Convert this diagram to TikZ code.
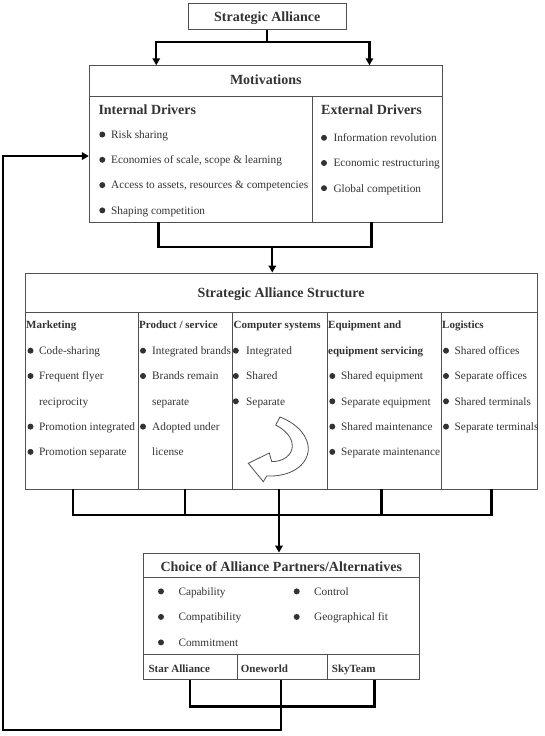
\documentclass[tikz,border=0pt]{standalone}
\usepackage{fontspec}
\setmainfont{Liberation Serif}
\usetikzlibrary{arrows.meta}
\definecolor{txt}{RGB}{51,51,51}
\definecolor{edge}{RGB}{80,80,80}
\begin{document}
\begin{tikzpicture}[x=1pt, y=-1pt, >={Triangle[length=7pt,width=7.5pt]},
    box/.style={draw=edge, line width=0.9pt, inner sep=0pt},
    div/.style={draw=edge, line width=0.9pt},
    conn/.style={line width=2.3pt, black},
    ttl/.style={anchor=base, inner sep=0pt, text=txt, font=\fontsize{14}{16}\selectfont\bfseries},
    hdr/.style={anchor=base west, inner sep=0pt, text=txt, font=\fontsize{11}{13}\selectfont\bfseries},
    item/.style={anchor=base west, inner sep=0pt, text=txt, font=\fontsize{11.3}{13}\selectfont}]
\useasboundingbox (0,0) rectangle (544,736);

\node[box, minimum width=157.7pt, minimum height=25.7pt] (sa) at (267.2,16.2) {};
\node[ttl] (satxt) at (267.2,21) {Strategic Alliance};

\node[box, minimum width=353pt, minimum height=156.3pt] (mot) at (265.8,143.85) {};
\draw[div] (89.3,96.7) -- (442.3,96.7);
\draw[div] (312.7,96.7) -- (312.7,222);
\node[ttl] (mottxt) at (265.8,84.8) {Motivations};
\node[ttl, anchor=base west] (inthdr) at (98.3,114.8) {Internal Drivers};
\node[ttl, anchor=base west] (exthdr) at (321,114.8) {External Drivers};
\foreach \t [count=\i] in {Risk sharing, {Economies of scale, scope \& learning},
    {Access to assets, resources \& competencies}, Shaping competition} {
  \node[item] (int\i) at (111,{138.3+25.3*(\i-1)}) {\t};
  \fill[txt] (102.3,{134.5+25.3*(\i-1)}) circle (3pt);
}
\foreach \t [count=\i] in {Information revolution, Economic restructuring, Global competition} {
  \node[item] (ext\i) at (333.3,{141.6+25.2*(\i-1)}) {\t};
  \fill[txt] (324,{137.8+25.2*(\i-1)}) circle (3pt);
}

\node[box, minimum width=512pt, minimum height=216pt] (str) at (281,381) {};
\draw[div] (25,312) -- (537,312);
\foreach \x in {138,232.5,327,441}
  \draw[div] (\x,312) -- (\x,489);
\node[ttl] (strtxt) at (281,297.8) {Strategic Alliance Structure};

\node[hdr] (mkthdr) at (26,328.7) {Marketing};
\foreach \r/\t in {1/Code-sharing, 2/Frequent flyer, 4/Promotion integrated, 5/Promotion separate} {
  \node[item] (mkt\r) at (39,{354.5+25.3*(\r-1)}) {\t};
  \fill[txt] (30.5,{350.7+25.3*(\r-1)}) circle (3pt);
}
\node[item] (mkt3) at (39,{354.5+25.3*2}) {reciprocity};

\node[hdr] (prohdr) at (139,328.7) {Product / service};
\foreach \r/\t in {1/Integrated brands, 2/Brands remain, 4/Adopted under} {
  \node[item] (pro\r) at (152,{354.5+25.3*(\r-1)}) {\t};
  \fill[txt] (143,{350.7+25.3*(\r-1)}) circle (3pt);
}
\node[item] (pro3) at (152,{354.5+25.3*2}) {separate};
\node[item] (pro5) at (152,{354.5+25.3*4}) {license};

\node[hdr] (comhdr) at (233.5,328.7) {Computer systems};
\foreach \t [count=\r] in {Integrated, Shared, Separate} {
  \node[item] (com\r) at (246,{354.5+25.3*(\r-1)}) {\t};
  \fill[txt] (235.8,{350.7+25.3*(\r-1)}) circle (3pt);
}
\draw[edge, line width=0.8pt, fill=white] (280,417) .. controls (298,424) and (309,437) .. (308.3,450)
  .. controls (307,466) and (290,477) .. (266.7,476) -- (263.3,481.7) -- (248.3,463.3) -- (269.3,453)
  -- (271.7,461.5) .. controls (283,462) and (292.3,455) .. (292.3,446)
  .. controls (292.3,437) and (285,430) .. (275.7,425) -- cycle;

\node[hdr] (equhdr) at (328,328.7) {Equipment and};
\node[hdr] (equhdr2) at (328,354.7) {equipment servicing};
\foreach \t [count=\r] in {Shared equipment, Separate equipment, Shared maintenance, Separate maintenance} {
  \node[item] (equ\r) at (341,{379.8+25.3*(\r-1)}) {\t};
  \fill[txt] (332.3,{376+25.3*(\r-1)}) circle (3pt);
}

\node[hdr] (loghdr) at (442,328.7) {Logistics};
\foreach \t [count=\r] in {Shared offices, Separate offices, Shared terminals, Separate terminals} {
  \node[item] (log\r) at (454.5,{354.5+25.3*(\r-1)}) {\t};
  \fill[txt] (446,{350.7+25.3*(\r-1)}) circle (3pt);
}

\node[box, minimum width=276pt, minimum height=126.3pt] (cho) at (281.3,616.15) {};
\draw[div] (143.3,577.7) -- (419.3,577.7);
\draw[div] (143.3,654.3) -- (419.3,654.3);
\foreach \x in {237.3,327.3}
  \draw[div] (\x,654.3) -- (\x,679.3);
\node[ttl] (chotxt) at (281.3,571.5) {Choice of Alliance Partners/Alternatives};
\foreach \t [count=\i] in {Capability, Compatibility, Commitment} {
  \node[item] (crt\i) at (178.3,{595.2+25.5*(\i-1)}) {\t};
  \fill[txt] (161,{591.4+25.5*(\i-1)}) circle (3pt);
}
\foreach \t [count=\i] in {Control, Geographical fit} {
  \node[item] (crs\i) at (314,{595.2+25.5*(\i-1)}) {\t};
  \fill[txt] (296.7,{591.4+25.5*(\i-1)}) circle (3pt);
}
\node[hdr] (star) at (148.3,672) {Star Alliance};
\node[hdr] (one) at (240.7,672) {Oneworld};
\node[hdr] (sky) at (331.7,672) {SkyTeam};

\draw[conn,->] (sa.south) -- ++(0,12.5) -| ([xshift=67.4pt]mot.north west);
\draw[conn,->] (sa.south) -- ++(0,12.5) -| ([xshift=-73.3pt]mot.north east);
\draw[conn] ([xshift=69.7pt]mot.south west) -- ++(0,24.7) -| ([xshift=-71.3pt]mot.south east);
\coordinate (mj) at (272.3,246.7);
\draw[conn,->] (mj) -- (mj |- str.north);

\draw[conn] ([xshift=48.5pt]str.south west) -- ++(0,25.5) -| ([xshift=-46pt]str.south east);
\foreach \x in {160.5,357}
  \draw[conn] ([xshift=\x pt]str.south west) -- ++(0,25.5);
\draw[conn,->] ([xshift=-2pt]str.south) -- ([xshift=-2pt]str.south |- cho.north);

\draw[conn] ([xshift=47.2pt]cho.south west) -- ++(0,26.7) -| ([xshift=-45.3pt]cho.south east);
\draw[conn,->] (cho.south) -- ++(0,50.2) -| ([xshift=-86pt,yshift=-12.2pt]mot.west) -- ([yshift=-12.2pt]mot.west);
\end{tikzpicture}
\end{document}
